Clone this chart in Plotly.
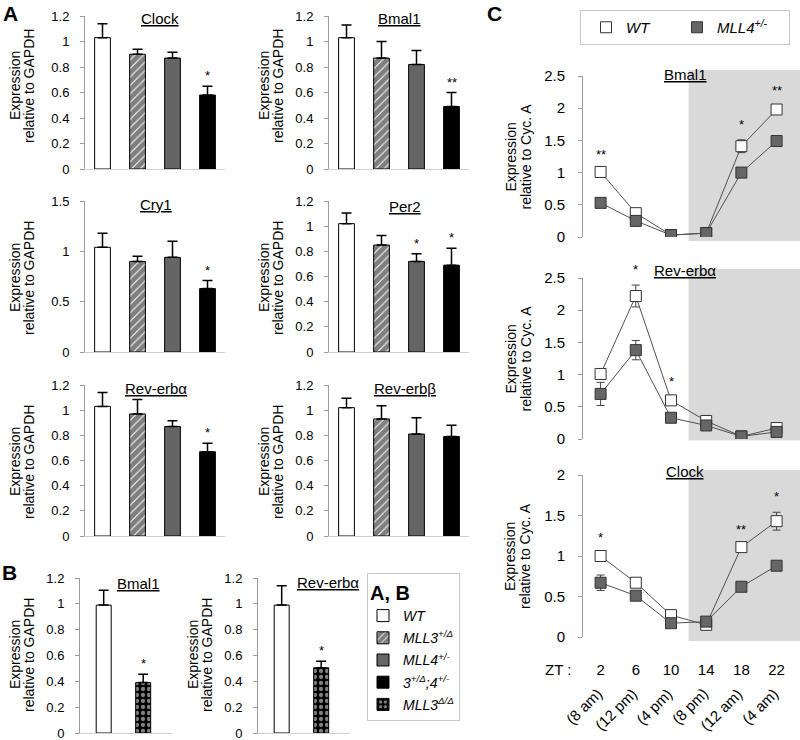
import plotly.graph_objects as go

W, H = 800, 740
FONT = "Arial, 'Liberation Sans', sans-serif"

# ---------------- data: panel A ----------------
genotypes_A = ["WT", "MLL3+/Δ", "MLL4+/-", "3+/Δ;4+/-"]
clock_A = [1.03, 0.90, 0.87, 0.58]
clock_A_err = [0.11, 0.04, 0.045, 0.07]
clock_A_sig = ["", "", "", "*"]
bmal1_A = [1.03, 0.87, 0.82, 0.49]
bmal1_A_err = [0.10, 0.13, 0.11, 0.11]
bmal1_A_sig = ["", "", "", "**"]
cry1_A = [1.04, 0.90, 0.94, 0.63]
cry1_A_err = [0.14, 0.05, 0.16, 0.08]
cry1_A_sig = ["", "", "", "*"]
per2_A = [1.02, 0.85, 0.72, 0.69]
per2_A_err = [0.085, 0.075, 0.06, 0.135]
per2_A_sig = ["", "", "*", "*"]
reverba_A = [1.03, 0.97, 0.87, 0.67]
reverba_A_err = [0.11, 0.115, 0.045, 0.067]
reverba_A_sig = ["", "", "", "*"]
reverbb_A = [1.02, 0.93, 0.81, 0.79]
reverbb_A_err = [0.075, 0.105, 0.13, 0.09]
reverbb_A_sig = ["", "", "", ""]

# ---------------- data: panel B ----------------
genotypes_B = ["WT", "MLL3Δ/Δ"]
bmal1_B = [0.99, 0.39]
bmal1_B_err = [0.115, 0.065]
bmal1_B_sig = ["", "*"]
reverba_B = [0.99, 0.505]
reverba_B_err = [0.15, 0.05]
reverba_B_sig = ["", "*"]

legend_labels = {
    "WT": "<i>WT</i>",
    "MLL3+/Δ": "<i>MLL3<sup>+/Δ</sup></i>",
    "MLL4+/-": "<i>MLL4<sup>+/-</sup></i>",
    "3+/Δ;4+/-": "<i>3<sup>+/Δ</sup>;4<sup>+/-</sup></i>",
    "MLL3Δ/Δ": "<i>MLL3<sup>Δ/Δ</sup></i>",
}

# ---------------- data: panel C ----------------
zt = [2, 6, 10, 14, 18, 22]
zt_clock = ["(8 am)", "(12 pm)", "(4 pm)", "(8 pm)", "(12 am)", "(4 am)"]
bmal1_wt = [1.01, 0.37, 0.03, 0.06, 1.41, 1.98]
bmal1_wt_err = [0.03, 0.03, 0.01, 0.01, 0.10, 0.05]
bmal1_mll4 = [0.53, 0.25, 0.03, 0.06, 1.00, 1.49]
bmal1_mll4_err = [0.03, 0.03, 0.01, 0.01, 0.03, 0.03]
bmal1_sig = ["**", "", "", "", "*", "**"]
reverba_wt = [1.01, 2.22, 0.60, 0.28, 0.04, 0.17]
reverba_wt_err = [0.05, 0.17, 0.05, 0.03, 0.02, 0.03]
reverba_mll4 = [0.70, 1.38, 0.33, 0.21, 0.04, 0.11]
reverba_mll4_err = [0.18, 0.15, 0.03, 0.03, 0.02, 0.03]
reverba_sig = ["", "*", "*", "", "", ""]
clock_wt = [1.00, 0.67, 0.27, 0.15, 1.11, 1.43]
clock_wt_err = [0.04, 0.03, 0.02, 0.02, 0.02, 0.11]
clock_mll4 = [0.67, 0.51, 0.17, 0.19, 0.62, 0.88]
clock_mll4_err = [0.095, 0.03, 0.02, 0.02, 0.03, 0.03]
clock_sig = ["*", "", "", "", "**", "*"]
dark_start = 12

# ---------------- styles ----------------
bar_styles = {
    "WT": dict(color="white", pattern=dict(shape="")),
    "MLL3+/Δ": dict(color="white", pattern=dict(shape="/", fgcolor="black", bgcolor="white", size=6, solidity=0.85)),
    "MLL4+/-": dict(color="#656565", pattern=dict(shape="")),
    "3+/Δ;4+/-": dict(color="black", pattern=dict(shape="")),
    "MLL3Δ/Δ": dict(color="black", pattern=dict(shape=".", fgcolor="white", bgcolor="black", size=6, solidity=0.4)),
}
legend_rank = {"WT": 1, "MLL3+/Δ": 2, "MLL4+/-": 3, "3+/Δ;4+/-": 4, "MLL3Δ/Δ": 5}
NBSP = "\u00a0"


def xdom(a, b):
    return [a / W, b / W]


def ydom(top, bottom):
    return [1 - bottom / H, 1 - top / H]


fig = go.Figure()
layout = {}
annotations = []
shapes = []
shown = set()


def text_px(text, x, y, size=13, angle=0, **kw):
    d = dict(text=text, x=x / W, y=1 - y / H, xref="paper", yref="paper", showarrow=False,
             font=dict(size=size, family=FONT, color="black"), textangle=angle,
             xanchor="center", yanchor="middle")
    d.update(kw)
    annotations.append(d)


def yaxis_style(rng, dtick, dom, size=13, standoff=8):
    return dict(domain=dom, range=rng, dtick=dtick, showgrid=False, zeroline=False,
                showline=True, linecolor="#9a9a9a", linewidth=1, ticks="outside", ticklen=4,
                tickcolor="#9a9a9a", tickfont=dict(size=size, family=FONT, color="black"),
                ticklabelstandoff=standoff, ticklabeloverflow="allow", automargin=False,
                fixedrange=True)


# ---------------- bar panels (A and B) ----------------
bar_panels = [
    # name, cats, values, err, sig, axis n, x px, y px, ymax, dtick, title pos, y-title pos
    ("Clock", genotypes_A, clock_A, clock_A_err, clock_A_sig, 1, (85, 225), (16, 169), 1.2, 0.2, (160, 19), (15, 29, 86)),
    ("Bmal1", genotypes_A, bmal1_A, bmal1_A_err, bmal1_A_sig, 2, (329, 469), (16, 169), 1.2, 0.2, (399, 19), (264, 278, 86)),
    ("Cry1", genotypes_A, cry1_A, cry1_A_err, cry1_A_sig, 3, (85, 225), (201, 352), 1.5, 0.5, (156, 205), (15, 29, 278)),
    ("Per2", genotypes_A, per2_A, per2_A_err, per2_A_sig, 4, (329, 469), (201, 352), 1.2, 0.2, (405, 206), (264, 278, 278)),
    ("Rev-erbα", genotypes_A, reverba_A, reverba_A_err, reverba_A_sig, 5, (85, 225), (385, 536), 1.2, 0.2, (156, 388), (15, 29, 462)),
    ("Rev-erbβ", genotypes_A, reverbb_A, reverbb_A_err, reverbb_A_sig, 6, (329, 469), (385, 536), 1.2, 0.2, (405, 388), (264, 278, 462)),
    ("Bmal1", genotypes_B, bmal1_B, bmal1_B_err, bmal1_B_sig, 7, (80, 172), (578, 733), 1.2, 0.2, (138, 583), (15, 29, 655)),
    ("Rev-erbα", genotypes_B, reverba_B, reverba_B_err, reverba_B_sig, 8, (258, 350), (578, 733), 1.2, 0.2, (328, 582), (193, 207, 655)),
]

for name, cats, vals, errs, sigs, n, xpx, ypx, ymax, dtick, tpos, ypos in bar_panels:
    xa, ya = f"x{n}", f"y{n}"
    two = len(cats) == 2
    for cat, v, e, s in zip(cats, vals, errs, sigs):
        st = bar_styles[cat]
        fig.add_trace(go.Bar(
            x=[cat], y=[v], xaxis=xa, yaxis=ya, width=0.38 if two else 0.45,
            marker=dict(color=st["color"], line=dict(color="black", width=1), pattern=st["pattern"]),
            error_y=dict(type="data", array=[e], arrayminus=[0], symmetric=False,
                         color="black", thickness=1.5, width=5),
            name=legend_labels[cat], legendgroup=cat, legendrank=legend_rank[cat],
            showlegend=cat not in shown, legend="legend", hoverinfo="skip",
        ))
        shown.add(cat)
        if s:
            annotations.append(dict(text=s, x=cat, y=v + e, xref=xa, yref=ya, showarrow=False,
                                    yanchor="bottom", yshift=1,
                                    font=dict(size=13, family=FONT, color="black")))
    key = "" if n == 1 else str(n)
    layout[f"xaxis{key}"] = dict(domain=xdom(*xpx), range=[-0.6, 1.73] if two else [-0.5, 3.5],
                                 categoryorder="array", categoryarray=cats, showticklabels=False,
                                 ticks="", showline=True, linecolor="#d0d0d0", showgrid=False,
                                 zeroline=False, anchor=ya, automargin=False, fixedrange=True)
    layout[f"yaxis{key}"] = yaxis_style([0, ymax], dtick, ydom(*ypx)) | dict(anchor=xa)
    text_px(f"<u>{name}</u>", tpos[0], tpos[1], size=15)
    text_px("Expression", ypos[0], ypos[2], size=14, angle=-90)
    text_px("relative to GAPDH", ypos[1], ypos[2], size=14, angle=-90)

# ---------------- time-course panels (C) ----------------
c_panels = [
    ("Bmal1", bmal1_wt, bmal1_wt_err, bmal1_mll4, bmal1_mll4_err, bmal1_sig, 9, (76, 237), 2.5, 75, (-0.025, 1.037)),
    ("Rev-erbα", reverba_wt, reverba_wt_err, reverba_mll4, reverba_mll4_err, reverba_sig, 10, (278, 439), 2.5, 271, (-0.01, 1.056)),
    ("Clock", clock_wt, clock_wt_err, clock_mll4, clock_mll4_err, clock_sig, 11, (475, 637), 2.0, 471, (-0.025, 1.031)),
]
XR = [0, 24.66]
for i, (name, wt, wte, ml, mle, sig, n, ypx, ymax, ty, shade) in enumerate(c_panels):
    xa, ya = f"x{n}", f"y{n}"
    for ys in (wt, ml):
        fig.add_trace(go.Scatter(x=zt, y=ys, xaxis=xa, yaxis=ya, mode="lines",
                                 line=dict(color="#505050", width=1), showlegend=False, hoverinfo="skip"))
    fig.add_trace(go.Scatter(
        x=zt, y=wt, xaxis=xa, yaxis=ya, mode="markers", name="<i>WT</i>" + NBSP * 4, legend="legend2",
        legendgroup="cwt", showlegend=(i == 0),
        marker=dict(symbol="square", size=11, color="white", line=dict(color="#333333", width=1)),
        error_y=dict(type="data", array=wte, color="#444444", thickness=1, width=4), hoverinfo="skip"))
    fig.add_trace(go.Scatter(
        x=zt, y=ml, xaxis=xa, yaxis=ya, mode="markers", name="<i>MLL4<sup>+/-</sup></i>" + NBSP * 4,
        legend="legend2", legendgroup="cml", showlegend=(i == 0),
        marker=dict(symbol="square", size=11, color="#666666", line=dict(color="#333333", width=1)),
        error_y=dict(type="data", array=mle, color="#444444", thickness=1, width=4), hoverinfo="skip"))
    for xv, yv, e, s in zip(zt, wt, wte, sig):
        if s:
            annotations.append(dict(text=s, x=xv, y=yv + e, xref=xa, yref=ya, showarrow=False,
                                    yanchor="bottom", yshift=6,
                                    font=dict(size=13, family=FONT, color="black")))
    shapes.append(dict(type="rect", xref=xa, yref=f"{ya} domain", x0=dark_start, x1=XR[1],
                       y0=shade[0], y1=shade[1], fillcolor="#d9d9d9", line=dict(width=0), layer="below"))
    bottom = n == 11
    layout[f"xaxis{n}"] = dict(domain=xdom(583, 800), range=XR, showline=False, ticks="",
                               showgrid=False, zeroline=False, anchor=ya, fixedrange=True, automargin=False,
                               showticklabels=bottom, tickvals=zt, ticktext=[str(z) for z in zt],
                               tickfont=dict(size=15, family=FONT, color="black"), ticklabelstandoff=22,
                               ticklabeloverflow="allow")
    layout[f"yaxis{n}"] = yaxis_style([0, ymax], 0.5, ydom(*ypx), size=15, standoff=10) | dict(anchor=xa)
    text_px(f"<u>{name}</u>", 685, ty, size=15)
    yc = (ypx[0] + ypx[1]) / 2
    text_px("Expression", 510, yc, size=14, angle=-90)
    text_px("relative to Cyc. A", 525, yc, size=14, angle=-90)

# rotated clock-time labels under the ZT ticks
for xv, lab in zip(zt, zt_clock):
    annotations.append(dict(text=lab, x=xv, y=1 - 682 / H, xref="x11", yref="paper", showarrow=False,
                            xanchor="right", yanchor="top", textangle=-45, xshift=7,
                            font=dict(size=15, family=FONT, color="black")))
text_px("ZT :", 558, 669, size=15)

# panel letters
text_px("<b>A</b>", 10, 13, size=21)
text_px("<b>B</b>", 9, 572, size=21)
text_px("<b>C</b>", 494, 13, size=21)

fig.update_layout(
    width=W, height=H, margin=dict(l=0, r=0, t=0, b=0, pad=0, autoexpand=False),
    paper_bgcolor="white", plot_bgcolor="rgba(0,0,0,0)", barmode="overlay",
    font=dict(family=FONT, color="black"),
    annotations=annotations, shapes=shapes,
    legend=dict(x=367 / W, y=1 - 573 / H, xanchor="left", yanchor="top",
                title=dict(text="<b>A, B</b>", font=dict(size=20, family=FONT)),
                font=dict(size=14, family=FONT), tracegroupgap=1, indentation=-5,
                bordercolor="#c8c8c8", borderwidth=1, bgcolor="white"),
    legend2=dict(x=580 / W, y=1 - 10 / H, xanchor="left", yanchor="top", orientation="h",
                 font=dict(size=15, family=FONT), indentation=6,
                 bordercolor="#c8c8c8", borderwidth=1, bgcolor="white"),
    **layout,
)

# remove the browser's default 8px page margin so the figure sits at the window origin
fig.write_html("out.html", config={"displayModeBar": False},
               post_script="document.body.style.margin='0px';")
